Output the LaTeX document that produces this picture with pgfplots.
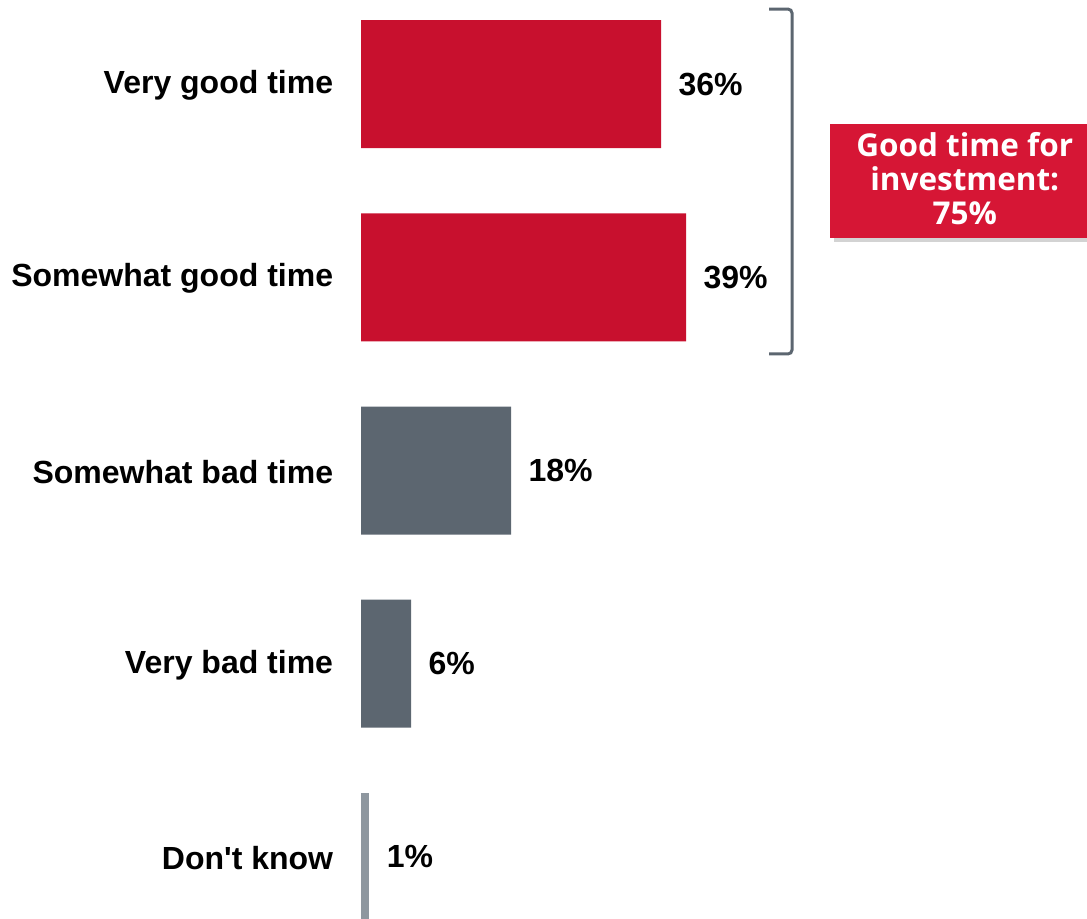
\documentclass[border=0pt]{standalone}
\usepackage{pgfplots}
\pgfplotsset{compat=1.18}
\usepackage{fontspec}
\setmainfont{Liberation Sans}
\newfontfamily\boxfont{Open Sans}
\usetikzlibrary{shadows}
\definecolor{goodred}{HTML}{C8102E}
\definecolor{boxred}{HTML}{D61635}
\definecolor{badgrey}{HTML}{5C6670}
\definecolor{dkgrey}{HTML}{8E979F}
\begin{document}
\begin{tikzpicture}
\begin{axis}[
    scale only axis, width=815.25pt, height=689.25pt,
    xbar, bar shift=0pt, bar width=96pt,
    xmin=-43.32, xmax=87.12, ymin=-0.321, ymax=4.435,
    axis x line=none, axis y line=left, y axis line style={draw=none},
    clip=false,
    ytick={0,1,2,3,4},
    yticklabels={Don\textquotesingle t know,Very bad time,Somewhat bad time,Somewhat good time,Very good time},
    yticklabel style={anchor=east, inner sep=0pt, xshift=250pt, yshift=-1pt,
        font=\fontsize{24}{28}\selectfont\bfseries},
    major tick length=0pt, tick style={draw=none},
    /pgf/number format/assume math mode=true,
    nodes near coords={\pgfmathprintnumber{\pgfplotspointmeta}\%},
    nodes near coords style={anchor=west, inner sep=0pt, xshift=13pt,
        font=\fontsize{24}{28}\selectfont\bfseries, text=black},
]
\addplot[fill=goodred, draw=none] coordinates {(36,4) (39,3)};
\addplot[fill=badgrey, draw=none] coordinates {(18,2) (6,1)};
\addplot[fill=dkgrey, draw=none] coordinates {(1,0)};

% bracket round the two "good" bars
\draw[badgrey, line width=2.25pt, rounded corners=3pt]
    (axis cs:48.96,4.388) -- (axis cs:51.72,4.388)
    -- (axis cs:51.72,2.603) -- (axis cs:48.96,2.603);

\node[fill=boxred, anchor=west, drop shadow={opacity=0.35},
      minimum width=192.75pt, minimum height=85.5pt, inner sep=0pt]
    (gbox) at (axis cs:56.28,3.498) {};
\node[text=white, align=center, inner sep=0pt, yshift=1.5pt, xshift=4.5pt,
      font=\boxfont\bfseries\fontsize{23.6}{25.5}\selectfont]
    at (gbox.center) {Good time for\\investment:\\75\%};
\end{axis}
\pgfresetboundingbox
\useasboundingbox (0,0) rectangle (815.25pt,689.25pt);
\end{tikzpicture}
\end{document}
